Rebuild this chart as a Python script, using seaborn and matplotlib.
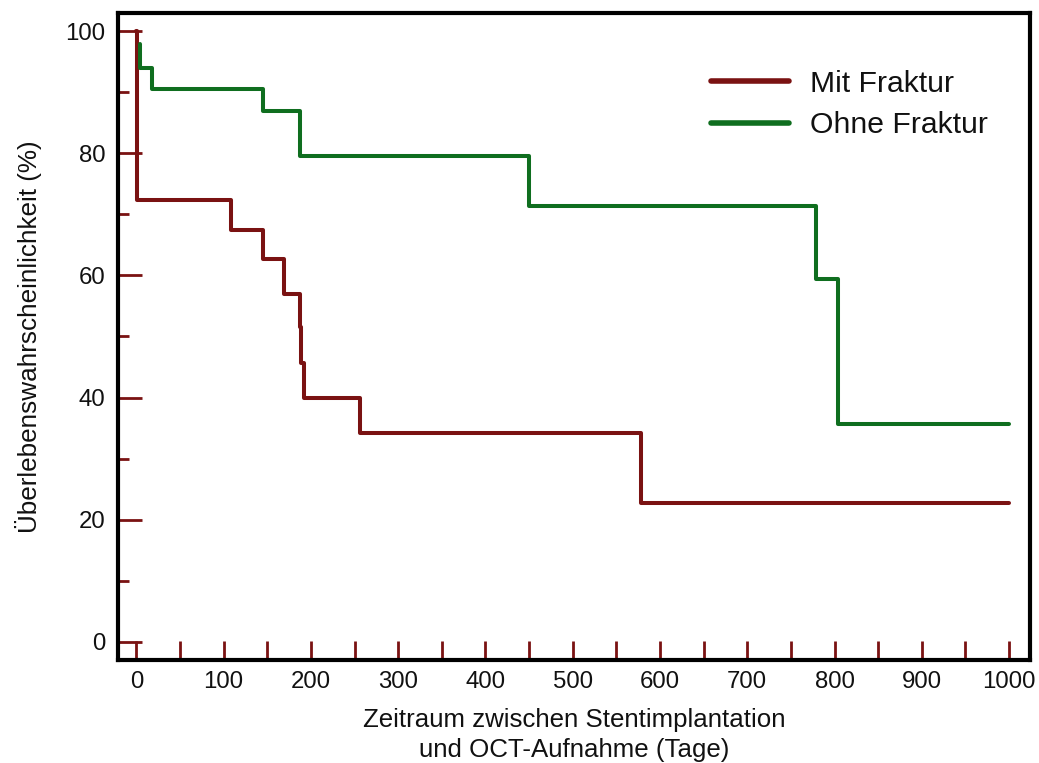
import numpy as np
import pandas as pd
import matplotlib
matplotlib.use("Agg")
import matplotlib.pyplot as plt
from matplotlib.ticker import MultipleLocator
import seaborn as sns

# Data (Kaplan-Meier step curves)
mit_time = [0, 1, 108, 145.5, 169.5, 188, 189, 192.5, 256.5, 578.5, 1000]
mit_surv = [100, 72.3, 67.5, 62.7, 57.0, 51.5, 45.7, 40.0, 34.2, 22.8, 22.8]
ohne_time = [4, 4, 18.5, 145.5, 187, 188, 450, 779, 804, 1000]
ohne_surv = [97.9, 94.0, 90.6, 87.0, 83.0, 79.5, 71.4, 59.5, 35.7, 35.7]
groups = ["Mit Fraktur", "Ohne Fraktur"]
colors = {"Mit Fraktur": "#7a1212", "Ohne Fraktur": "#0f6e1f"}
x_ticks = [0, 100, 200, 300, 400, 500, 600, 700, 800, 900, 1000]
y_ticks = [0, 20, 40, 60, 80, 100]

df = pd.concat([
    pd.DataFrame({"t": mit_time, "s": mit_surv, "g": groups[0]}),
    pd.DataFrame({"t": ohne_time, "s": ohne_surv, "g": groups[1]}),
], ignore_index=True)

sns.set_theme(style="white")
plt.rcParams["font.family"] = ["Liberation Sans", "DejaVu Sans"]

fig = plt.figure(figsize=(10.39, 7.63), dpi=100)
ax = fig.add_axes([118 / 1039, 1 - 660 / 763, (1030 - 118) / 1039, (660 - 13) / 763])

for g in groups:
    sub = df[df["g"] == g]
    sns.lineplot(data=sub, x="t", y="s", ax=ax, color=colors[g], linewidth=2.9,
                 drawstyle="steps-post", estimator=None, sort=False, label=g)

ax.set_xlim(-21, 1024)
ax.set_ylim(-3, 103)
ax.set_xticks(x_ticks)
ax.xaxis.set_minor_locator(MultipleLocator(50))
ax.set_yticks(y_ticks)
ax.yaxis.set_minor_locator(MultipleLocator(10))

tc = "#7a1212"
ax.tick_params(axis="x", which="both", direction="in", length=14, width=2, color=tc,
               labelsize=17.3, pad=8, labelcolor="#111111")
ax.tick_params(axis="y", which="major", direction="in", length=17, width=2, color=tc,
               labelsize=17.3, pad=9, labelcolor="#111111")
ax.tick_params(axis="y", which="minor", direction="in", length=8, width=2, color=tc)
ax.tick_params(which="both", bottom=True, left=True, top=False, right=False)

for sp in ax.spines.values():
    sp.set_visible(True)
    sp.set_color("black")
    sp.set_linewidth(3)

ax.set_xlabel("Zeitraum zwischen Stentimplantation\nund OCT-Aufnahme (Tage)", fontsize=18.6,
              color="#111111", linespacing=1.3, labelpad=11)
ax.set_ylabel("Überlebenswahrscheinlichkeit (%)", fontsize=18.8, color="#111111", labelpad=17)

leg = ax.legend(loc="upper right", bbox_to_anchor=(0.984, 0.954), frameon=False, fontsize=21.7,
                handlelength=2.6, handletextpad=0.7, labelspacing=0.45)
for line in leg.get_lines():
    line.set_linewidth(4)
for t in leg.get_texts():
    t.set_color("#111111")

fig.savefig("out.png", dpi=100, facecolor="white")
